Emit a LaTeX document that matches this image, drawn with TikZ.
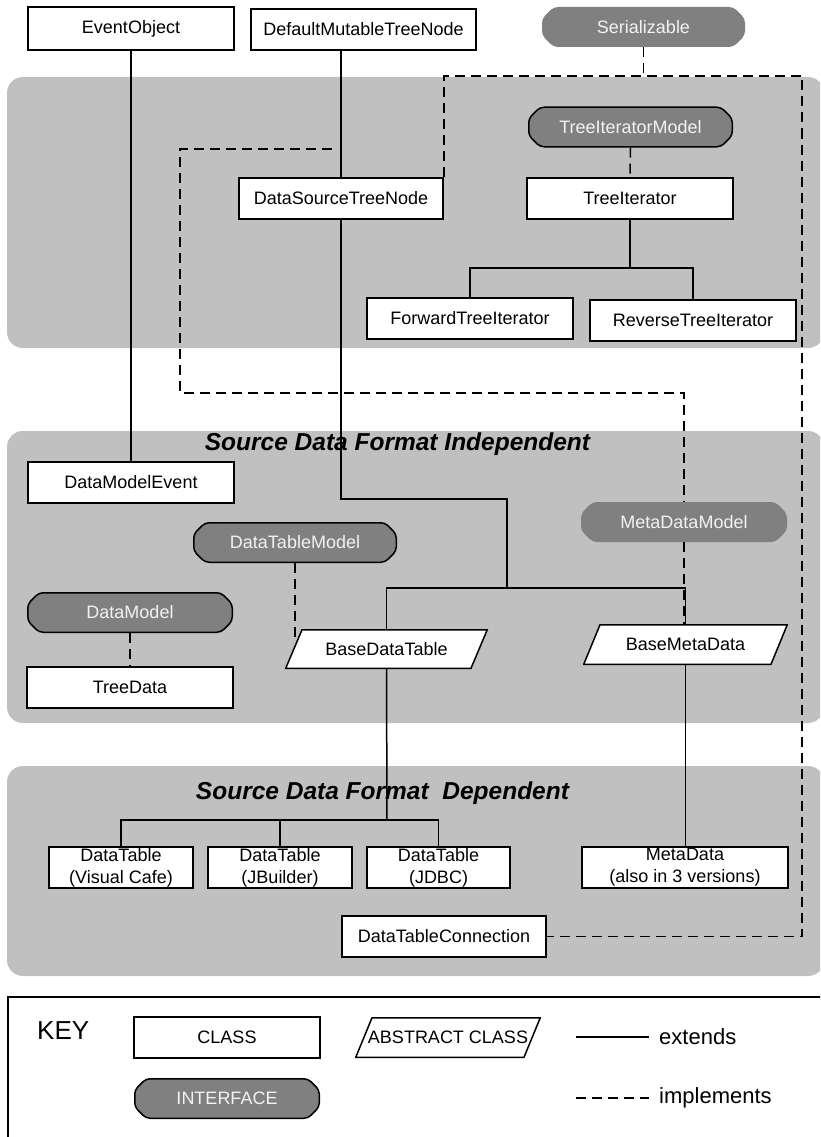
\documentclass[tikz,border=0pt]{standalone}
\usepackage{fontspec}
\setmainfont{Liberation Sans}
\definecolor{panelgray}{HTML}{C0C0C0}
\definecolor{ifacegray}{HTML}{808080}
\definecolor{ifacetext}{HTML}{F2F2F2}
\tikzset{
  base/.style={font=\fontsize{18}{22}\selectfont, inner sep=0pt, minimum height=41},
  cls/.style={base, draw=black, fill=white, line width=1.5pt, minimum width=#1},
  cls2/.style={cls=#1, align=center},
  chamfer/.style={insert path={
    ([xshift=12pt,yshift=-0.75pt]path picture bounding box.north west) --
    ([xshift=-12pt,yshift=-0.75pt]path picture bounding box.north east) --
    ([xshift=-0.75pt,yshift=-12pt]path picture bounding box.north east) --
    ([xshift=-0.75pt,yshift=12pt]path picture bounding box.south east) --
    ([xshift=-12pt,yshift=0.75pt]path picture bounding box.south east) --
    ([xshift=12pt,yshift=0.75pt]path picture bounding box.south west) --
    ([xshift=0.75pt,yshift=12pt]path picture bounding box.south west) --
    ([xshift=0.75pt,yshift=-12pt]path picture bounding box.north west) -- cycle}},
  iface/.style={base, minimum width=#1, text=ifacetext,
    path picture={\filldraw[fill=ifacegray, draw=black, line width=1.5pt, rounded corners=4pt, chamfer];}},
  ifacenb/.style={base, minimum width=#1, text=ifacetext,
    path picture={\filldraw[fill=ifacegray, draw=ifacegray, line width=1.5pt, rounded corners=4pt, chamfer];}},
  abstr/.style={base, minimum width=#1,
    path picture={\filldraw[fill=white, draw=black, line width=1.5pt]
      ([xshift=17pt,yshift=-0.75pt]path picture bounding box.north west) --
      ([xshift=-0.75pt,yshift=-0.75pt]path picture bounding box.north east) --
      ([xshift=-17pt,yshift=0.75pt]path picture bounding box.south east) --
      ([xshift=0.75pt,yshift=0.75pt]path picture bounding box.south west) -- cycle;}},
  extline/.style={draw=black, line width=1.5pt},
  implline/.style={draw=black, line width=1.5pt, dash pattern=on 10pt off 6pt},
  titletext/.style={font=\fontsize{24.5}{28}\selectfont\bfseries\itshape, inner sep=0pt},
  keytext/.style={font=\fontsize{22}{26}\selectfont, inner sep=0pt, anchor=west},
  panel/.style={fill=panelgray, rounded corners=16pt}
}
\begin{document}
\begin{tikzpicture}[x=1pt,y=-1pt]
\useasboundingbox (0,0) rectangle (820,1137);
\clip (0,0) rectangle (820,1137);
\fill[white] (0,0) rectangle (820,1137);
% panels
\path[panel] (7,77) rectangle (824,348);
\path[panel] (7,431) rectangle (824,723);
\path[panel] (7,766) rectangle (824,976);
% titles
\node[titletext] (t1) at (397.5,444) {Source Data Format Independent};
\node[titletext] (t2) at (382.5,793) {Source Data Format\ \ Dependent};
% nodes
\node[cls=206, minimum height=43] (eo) at (131,28.5) {EventObject};
\node[cls=225] (dmtn) at (363.5,29.5) {DefaultMutableTreeNode};
\node[ifacenb=203, minimum height=40] (ser) at (643.5,27) {Serializable};
\node[iface=205] (tim) at (630.5,127) {TreeIteratorModel};
\node[cls=204] (dstn) at (341,198.5) {DataSourceTreeNode};
\node[cls=206] (ti) at (630,198.5) {TreeIterator};
\node[cls=206] (fti) at (470,318.5) {ForwardTreeIterator};
\node[cls=206] (rti) at (693,320.5) {ReverseTreeIterator};
\node[cls=206] (dme) at (131,482.5) {DataModelEvent};
\node[iface=204] (dtm) at (295,542.5) {DataTableModel};
\node[ifacenb=206, minimum height=40] (mdm) at (684,522) {MetaDataModel};
\node[iface=206] (dm) at (130,612.5) {DataModel};
\node[cls=206] (td) at (130,687.5) {TreeData};
\node[abstr=203, minimum height=40] (bdt) at (386.5,649) {BaseDataTable};
\node[abstr=205] (bmd) at (685.5,644.5) {BaseMetaData};
\node[cls2=144] (dt1) at (121,867.5) {DataTable\\(Visual Cafe)};
\node[cls2=144] (dt2) at (280,867.5) {DataTable\\(JBuilder)};
\node[cls2=143] (dt3) at (438.5,867.5) {DataTable\\(JDBC)};
\node[cls2=206] (md) at (685,867.5) {MetaData\\(also in 3 versions)};
\node[cls=204] (dtc) at (444,936.5) {DataTableConnection};
% helper coordinates
\coordinate (sj) at (645,76);
\coordinate (ir) at (802,76);
\coordinate (dl0) at (332,149);
\coordinate (dl1) at (180,393);
\coordinate (bdtL) at (294,643);
\coordinate (tibus) at (630,268);
\coordinate (k1) at (507,499);
\coordinate (k2) at (507,588);
\coordinate (dtbus) at (387,820);
% implements
\draw[implline] (ser.south) -- (ser.south |- sj);
\draw[implline] (dstn.north east) |- (sj) -- (ir) -- (ir |- dtc.east) -- (dtc.east);
\draw[implline] (dl0) -| (dl1) -| (mdm.north);
\draw[implline] (mdm.south) -- (bmd.north -| mdm.south);
\draw[implline] (tim.south) -- (ti.north);
\draw[implline] (dm.south) -- (td.north);
\draw[implline] (dtm.south) -- (dtm.south |- bdtL);
% extends
\draw[extline] (eo.south) -- (dme.north);
\draw[extline] (dstn.north) -- (dstn.north |- dmtn.south);
\draw[extline] (ti.south) -- (tibus);
\draw[extline] (fti.north) |- (tibus) -| (rti.north);
\draw[extline] (dstn.south) |- (k1) -- (k2);
\draw[extline] (bdt.north) |- (k2) -| (bmd.north);
\draw[extline] (bdt.south) -- (dtbus);
\draw[extline] (dt1.north) |- (dtbus) -| (dt3.north);
\draw[extline] (dt2.north) -- (dt2.north |- dtbus);
\draw[extline] (bmd.south) -- (bmd.south |- md.north);
% key
\draw[line width=1.5pt] (830,997) -- (8,997) -- (8,1145);
\node[font=\fontsize{26}{30}\selectfont, inner sep=0pt, anchor=west] (key) at (37,1031) {KEY};
\node[cls=186] (kc) at (227,1037.5) {CLASS};
\node[abstr=186] (ka) at (448,1037.5) {ABSTRACT CLASS};
\node[iface=186] (ki) at (227,1098.5) {INTERFACE};
\coordinate (ke1) at (576,1037);
\coordinate (ke2) at (649,1037);
\draw[extline] (ke1) -- (ke2);
\node[keytext] (kext) at (659,1037) {extends};
\coordinate (km1) at (576,1098);
\coordinate (km2) at (649,1098);
\draw[implline] (km1) -- (km2);
\node[keytext] (kimp) at (659,1098) {implements};
\end{tikzpicture}
\end{document}
